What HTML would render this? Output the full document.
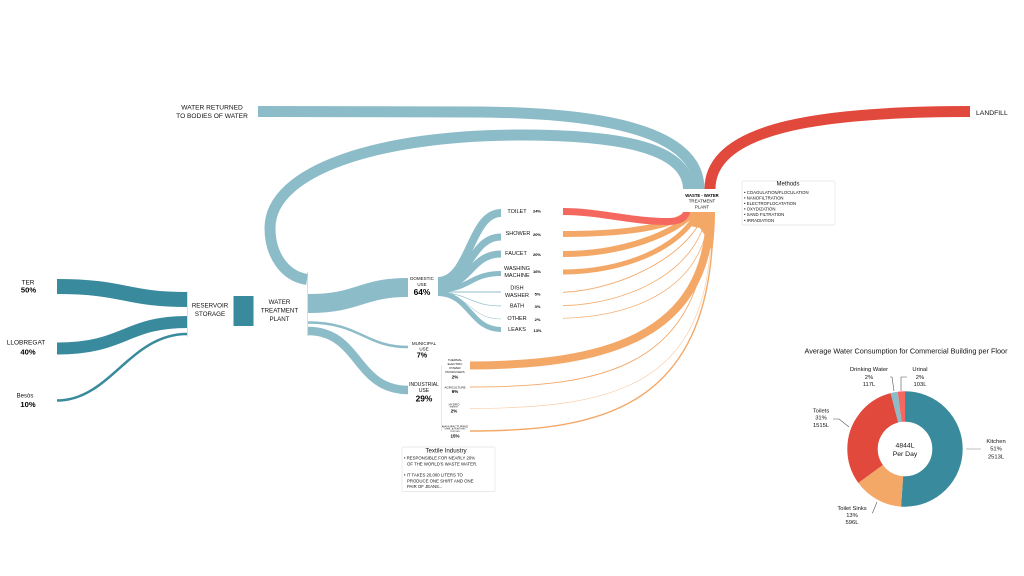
<!DOCTYPE html>
<html lang="en">
<head>
<meta charset="utf-8">
<title>Water Flow Diagram</title>
<style>
html,body{margin:0;padding:0;background:#fff;width:1024px;height:576px;overflow:hidden}
svg{display:block}
text{font-family:"Liberation Sans",sans-serif;fill:#111;text-anchor:middle;dominant-baseline:central}
.b{font-weight:bold;fill:#000}
.l{text-anchor:start}
path{fill:none}
.t{stroke:#3a8a9d}
.u{stroke:#8dbcc9}
.o{stroke:#f4a868}
</style>
</head>
<body>
<svg width="1024" height="576" viewBox="0 0 1024 576" xmlns="http://www.w3.org/2000/svg">
<rect width="1024" height="576" fill="#fff"/>

<!-- sources -->
<path class="t" stroke-width="15" d="M57 286.5 C125 286.5 125 299.5 187 299.5"/>
<path class="t" stroke-width="12" d="M57 348.5 C125 348.5 125 322 187 322"/>
<path class="t" stroke-width="2.5" d="M57 400.5 C110 400.5 130 334 187 334"/>
<rect x="187" y="291" width="1" height="46" fill="#ddd"/>
<rect x="233.5" y="296" width="20" height="30" fill="#3a8a9d"/>
<rect x="307" y="272" width="1" height="64" fill="#ddd"/>

<!-- return loops -->
<path class="u" stroke-width="11" d="M258 111.5 L480 112 C600 113 699 130 699 189"/>
<path class="u" stroke-width="11" d="M307 279.5 C284 276 270 254 270 228 C270 170 380 135 520 135 C610 135 688 145 688.5 189"/>
<path stroke="#e2493d" stroke-width="11" d="M710 189 C710 125 830 111.5 970 111.5"/>

<!-- plant outputs -->
<path class="u" stroke-width="19" d="M308 303.5 C360 303.5 360 287.5 408 287.5"/>
<path class="u" stroke-width="2.5" d="M308 322.5 C360 322.5 365 347 408 347"/>
<path class="u" stroke-width="8.5" d="M308 331 C360 331 355 390 408 390"/>

<!-- domestic fan -->
<path class="u" stroke-width="8" d="M438 281 C470 281 470 213 501 213"/>
<path class="u" stroke-width="7" d="M438 284 C470 284 470 237 501 237"/>
<path class="u" stroke-width="7" d="M438 287 C470 287 470 254 501 254"/>
<path class="u" stroke-width="5" d="M438 290 C470 290 470 273.5 501 273.5"/>
<path class="u" stroke-width=".9" d="M438 292 C470 292 470 292 501 292"/>
<path class="u" stroke-width=".7" d="M438 292.5 C470 293 470 306 501 306"/>
<path class="u" stroke-width=".5" d="M438 293 C470 294 470 319 501 319"/>
<path class="u" stroke-width="5" d="M438 293.5 C470 294 470 329.5 501 329.5"/>

<!-- to waste water plant -->
<path style="fill:#f4a868" d="M689 212 H715 C715 225 714 240 712 252 L708 240 L700 228 L690 226 Z"/>
<path class="o" stroke-width="6" d="M563 234 C620 234 675 228 692 210"/>
<path class="o" stroke-width="6" d="M563 254 C620 254 675 235 696 210"/>
<path class="o" stroke-width="5" d="M563 272 C620 272 680 250 699 210"/>
<path class="o" stroke-width=".9" d="M563 292.3 C620 290 692 255 705 210"/>
<path class="o" stroke-width=".8" d="M563 305.7 C630 304 700 270 707 210"/>
<path class="o" stroke-width=".7" d="M563 318.3 C640 316 706 285 709 210"/>
<path class="o" stroke-width="8" d="M470 365.5 C600 365 710 340 710 210"/>
<path class="o" stroke-width=".9" d="M470 387 C600 387 706 370 708 210"/>
<path class="o" stroke-width=".7" stroke-opacity=".55" d="M470 408.5 C620 408 716 385 711 210"/>
<path class="o" stroke-width="1.4" d="M470 431 C600 431 716 410 713 210"/>
<path stroke="#f4685f" stroke-width="7" d="M563 211.5 C600 211.5 630 221.5 668 221.5 C680 221.5 686 218 687 210"/>
<rect x="680" y="189" width="38" height="23" fill="#fff"/>
<rect x="441" y="365" width=".7" height="66" fill="#ddd"/>

<!-- left labels -->
<text x="28" y="283" font-size="6.5">TER</text>
<text x="28.5" y="290" font-size="7.6" class="b">50%</text>
<text x="26" y="343" font-size="6.5">LLOBREGAT</text>
<text x="28" y="352" font-size="7.6" class="b">40%</text>
<text x="25" y="396.5" font-size="6">Besòs</text>
<text x="28" y="404.5" font-size="7.6" class="b">10%</text>
<text x="210" y="306" font-size="6.2">RESERVOIR</text>
<text x="210" y="314.5" font-size="6.2">STORAGE</text>
<text x="279.5" y="302.5" font-size="6.2">WATER</text>
<text x="279.5" y="311" font-size="6.2">TREATMENT</text>
<text x="279.5" y="319.5" font-size="6.2">PLANT</text>
<text x="212" y="108" font-size="6.6">WATER RETURNED</text>
<text x="212" y="116.5" font-size="6.6">TO BODIES OF WATER</text>
<text x="976" y="113.5" font-size="6.8" class="l">LANDFILL</text>

<!-- use labels -->
<text x="422" y="278.7" font-size="4.5">DOMESTIC</text>
<text x="422" y="284.7" font-size="4.5">USE</text>
<text x="422" y="292" font-size="8.4" class="b">64%</text>
<text x="424" y="343.5" font-size="4.5">MUNICIPAL</text>
<text x="424" y="349" font-size="4.5">USE</text>
<text x="422" y="355" font-size="7.2" class="b">7%</text>
<text x="424" y="385" font-size="5">INDUSTRIAL</text>
<text x="424" y="391" font-size="5">USE</text>
<text x="424" y="398.5" font-size="8.4" class="b">29%</text>

<text x="517" y="212" font-size="5.5">TOILET</text>
<text x="518" y="234" font-size="5.5">SHOWER</text>
<text x="516" y="254" font-size="5.5">FAUCET</text>
<text x="517" y="269" font-size="5.5">WASHING</text>
<text x="517" y="276" font-size="5.5">MACHINE</text>
<text x="517" y="288.7" font-size="5.5">DISH</text>
<text x="517" y="296" font-size="5.5">WASHER</text>
<text x="517" y="306.7" font-size="5.5">BATH</text>
<text x="517" y="319" font-size="5.5">OTHER</text>
<text x="517" y="330" font-size="5.5">LEAKS</text>
<text x="537" y="211" font-size="4" class="b">24%</text>
<text x="537" y="234.5" font-size="4" class="b">20%</text>
<text x="537" y="254.3" font-size="4" class="b">20%</text>
<text x="537" y="271.7" font-size="4" class="b">16%</text>
<text x="537.5" y="294" font-size="4" class="b">5%</text>
<text x="537.5" y="306.5" font-size="4" class="b">3%</text>
<text x="537.5" y="319.3" font-size="4" class="b">2%</text>
<text x="537.5" y="330.5" font-size="4" class="b">13%</text>

<text x="455" y="360" font-size="3">THERMAL</text>
<text x="455" y="364" font-size="3">ELECTRIC</text>
<text x="455" y="368" font-size="3">POWER</text>
<text x="455" y="372" font-size="3">PRODUCERS</text>
<text x="455" y="377" font-size="4.5" class="b">2%</text>
<text x="455" y="387.5" font-size="3">AGRICULTURE</text>
<text x="455" y="391.5" font-size="4.5" class="b">6%</text>
<text x="454" y="404.5" font-size="3">HYDRO</text>
<text x="454" y="407.5" font-size="2">ENERGY</text>
<text x="454" y="411" font-size="4.5" class="b">2%</text>
<text x="455" y="426.5" font-size="3">MANUFACTURING</text>
<text x="455" y="429.3" font-size="2">STEEL, AUTOMOTIVE,</text>
<text x="455" y="431.8" font-size="2">TEXTILES</text>
<text x="455" y="436" font-size="4.5" class="b">15%</text>

<text x="702" y="195.5" font-size="4.2" class="b">WASTE - WATER</text>
<text x="702" y="201" font-size="4.4">TREATMENT</text>
<text x="702" y="207" font-size="4.4">PLANT</text>

<!-- Methods box -->
<rect x="742" y="181" width="93" height="44" rx="1.5" fill="#fff" stroke="#e4e4e4" stroke-width=".7"/>
<text x="788" y="184.7" font-size="6">Methods</text>
<g font-size="4.3">
<text x="744" y="192.3" class="l">• COAGULATION/FLOCULATION</text>
<text x="744" y="198" class="l">• NANOFILTRATION</text>
<text x="744" y="203.5" class="l">• ELECTROFLOCATATION</text>
<text x="744" y="209" class="l">• OXYDIZATION</text>
<text x="744" y="214.7" class="l">• SAND FILTRATION</text>
<text x="744" y="220.3" class="l">• IRRADIATION</text>
</g>

<!-- Textile box -->
<rect x="402" y="447" width="93" height="44.5" rx="1.5" fill="#fff" stroke="#e4e4e4" stroke-width=".7"/>
<text x="446" y="451" font-size="6.2">Textile Industry</text>
<g font-size="4.3">
<text x="404" y="458" class="l">• RESPONSIBLE FOR NEARLY 20%</text>
<text x="407" y="464" class="l">OF THE WORLD'S WASTE WATER.</text>
<text x="404" y="475" class="l">• IT TAKES 20,000 LITERS TO</text>
<text x="407" y="481" class="l">PRODUCE ONE SHIRT AND ONE</text>
<text x="407" y="486.7" class="l">PAIR OF JEANS...</text>
</g>

<!-- Donut -->
<text x="906" y="352" font-size="7" textLength="203" lengthAdjust="spacingAndGlyphs">Average Water Consumption for Commercial Building per Floor</text>
<g transform="rotate(-90 905 449)" fill="none" stroke-width="30.4">
<circle cx="905" cy="449" r="42.5" stroke="#3a8a9d" pathLength="360" stroke-dasharray="184 176" stroke-dashoffset="0"/>
<circle cx="905" cy="449" r="42.5" stroke="#f4a868" pathLength="360" stroke-dasharray="50 310" stroke-dashoffset="-184"/>
<circle cx="905" cy="449" r="42.5" stroke="#e2493d" pathLength="360" stroke-dasharray="111.6 248.4" stroke-dashoffset="-234"/>
<circle cx="905" cy="449" r="42.5" stroke="#8dbcc9" pathLength="360" stroke-dasharray="7.1 352.9" stroke-dashoffset="-345.6"/>
<circle cx="905" cy="449" r="42.5" stroke="#f4685f" pathLength="360" stroke-dasharray="7.3 352.7" stroke-dashoffset="-352.7"/>
</g>
<g fill="none" stroke="#555" stroke-width=".6">
<path d="M966 449 H981" stroke="#999"/>
<path d="M872 513 H872.5 L877 502"/>
<path d="M833 419 H839 L849 427"/>
<path d="M890 377 H892 L894 391"/>
<path d="M907 377 H901 V391"/>
</g>
<text x="905" y="446" font-size="6.8">4844L</text>
<text x="905" y="454.5" font-size="6.8">Per Day</text>
<g font-size="5.8">
<text x="869" y="370">Drinking Water</text>
<text x="869" y="378">2%</text>
<text x="869" y="385">117L</text>
<text x="920" y="370">Urinal</text>
<text x="920" y="378">2%</text>
<text x="920" y="385">103L</text>
<text x="821" y="411.5">Toilets</text>
<text x="821" y="418.5">31%</text>
<text x="821" y="426">1515L</text>
<text x="996" y="442">Kitchen</text>
<text x="996" y="449.5">51%</text>
<text x="996" y="457.5">2513L</text>
<text x="852" y="509">Toilet Sinks</text>
<text x="852" y="516">13%</text>
<text x="852" y="523">596L</text>
</g>
</svg>
</body>
</html>
